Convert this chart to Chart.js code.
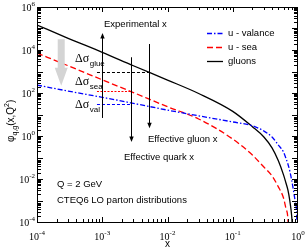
<!DOCTYPE html>
<html>
<head>
<meta charset="utf-8">
<script src="https://cdn.jsdelivr.net/npm/chart.js@4.4.1/dist/chart.umd.min.js"></script>
<style>
  html, body { margin: 0; padding: 0; background: #fff; }
  #wrap { width: 305px; height: 249px; }
</style>
</head>
<body>
<div id="wrap"><canvas id="pdfChart" width="305" height="249"></canvas></div>
<script>
const xValues  = [1e-4, 3e-4, 1e-3, 3e-3, 0.01, 0.03, 0.1, 0.2, 0.3, 0.4, 0.5, 0.6, 0.65, 0.7, 0.75, 0.8, 0.85, 0.9, 0.95, 0.99];
const uValence = [234, 123, 63, 33, 16, 8.7, 4.5, 3.0, 1.7, 0.9, 0.38, 0.18, 0.095, 0.05, 0.023, 0.0089, 0.0031, 0.00105, 0.0003, 0.000001];
const uSea     = [7200, 1850, 410, 105, 23, 6.2, 0.72, 0.13, 0.036, 0.014, 0.0043, 0.0013, 0.00045, 0.00014, 0.000001, null, null, null, null, null];
const gluons   = [145000, 35000, 7800, 1850, 400, 95, 14, 2.7, 0.9, 0.28, 0.07, 0.0155, 0.0069, 0.0031, 0.00095, 0.00019, 0.00001, null, null, null];

// decade exponents used for the tick labels
const xTickExps = [-4, -3, -2, -1, 0];
const yTickExps = [-4, -2, 0, 2, 4, 6];

// annotation arrows: [x, yFrom, yTo] (head at yTo)
const expArrow   = [1e-3, 6.9, 62000];
const quarkArrow = [2.8e-3, 4600, 0.52];
const gluonArrow = [5.2e-3, 19000, 2.3];
const grayArrow  = [2.35e-4, 32000, 215];
// dashed guides: [xFrom, xTo, y]
const glueGuide = [8.3e-4, 5.2e-3, 950];
const seaGuide  = [8.3e-4, 2.8e-3, 123];
const valGuide  = [8.3e-4, 2.8e-3, 31];

function pts(ys) {
  return xValues.map((x, i) => ({ x: x, y: ys[i] }));
}

const SANS = '"Liberation Sans", Arial, sans-serif';
const SERIF = '"Liberation Serif", "Times New Roman", serif';

function line(ctx, x1, y1, x2, y2) {
  ctx.beginPath(); ctx.moveTo(x1, y1); ctx.lineTo(x2, y2); ctx.stroke();
}

function thinArrow(ctx, x, y, a) {
  const px = Math.round(x.getPixelForValue(a[0])) + 0.5;
  const y1 = y.getPixelForValue(a[1]), y2 = y.getPixelForValue(a[2]);
  const dir = y2 > y1 ? 1 : -1;
  ctx.strokeStyle = '#000'; ctx.lineWidth = 1;
  line(ctx, px, y1, px, y2 - dir * 3);
  ctx.fillStyle = '#000';
  ctx.beginPath();
  ctx.moveTo(px, y2);
  ctx.lineTo(px - 2.2, y2 - dir * 5.5);
  ctx.lineTo(px + 2.2, y2 - dir * 5.5);
  ctx.closePath(); ctx.fill();
}

function guide(ctx, x, y, g, color, dash) {
  ctx.strokeStyle = color; ctx.lineWidth = 1; ctx.setLineDash(dash);
  const py = Math.round(y.getPixelForValue(g[2])) + 0.5;
  line(ctx, x.getPixelForValue(g[0]), py, x.getPixelForValue(g[1]), py);
  ctx.setLineDash([]);
}

function powLabel(ctx, exp, px, py, align) {
  ctx.font = '10px ' + SERIF;
  const wb = ctx.measureText('10').width;
  ctx.font = '7px ' + SERIF;
  const es = String(exp);
  const we = ctx.measureText(es).width;
  let left = align === 'right' ? px - wb - we : px - (wb + we) / 2;
  ctx.textAlign = 'left'; ctx.textBaseline = 'alphabetic';
  ctx.font = '10px ' + SERIF;
  ctx.fillText('10', left, py);
  ctx.font = '7px ' + SERIF;
  ctx.fillText(es, left + wb, py - 5);
}

function deltaSigma(ctx, sub, px, py) {
  ctx.textAlign = 'left'; ctx.textBaseline = 'alphabetic';
  ctx.font = '12px ' + SERIF;
  ctx.fillText('\u0394\u03c3', px, py);
  const w = ctx.measureText('\u0394\u03c3').width;
  ctx.font = '8px ' + SANS;
  ctx.fillText(sub, px + w + 0.5, py + 4);
}

const pdfDecor = {
  id: 'pdfDecor',
  afterDatasetsDraw(chart) {
    const { ctx, chartArea: a, scales: { x, y } } = chart;
    ctx.save();

    // big gray arrow
    const gx = x.getPixelForValue(grayArrow[0]);
    const gTop = y.getPixelForValue(grayArrow[1]);
    const gTip = y.getPixelForValue(grayArrow[2]);
    ctx.fillStyle = '#d4d4d4';
    ctx.beginPath();
    ctx.moveTo(gx - 3.5, gTop);
    ctx.lineTo(gx + 3.5, gTop);
    ctx.lineTo(gx + 3.5, gTip - 18);
    ctx.lineTo(gx + 6.5, gTip - 18);
    ctx.lineTo(gx, gTip);
    ctx.lineTo(gx - 6.5, gTip - 18);
    ctx.lineTo(gx - 3.5, gTip - 18);
    ctx.closePath(); ctx.fill();

    // dashed guides
    guide(ctx, x, y, glueGuide, '#000', [3, 2]);
    guide(ctx, x, y, seaGuide, '#ff0000', [2, 1.5]);
    guide(ctx, x, y, valGuide, '#0000ff', [3, 2]);

    // arrows
    thinArrow(ctx, x, y, expArrow);
    thinArrow(ctx, x, y, quarkArrow);
    thinArrow(ctx, x, y, gluonArrow);

    // frame
    ctx.strokeStyle = '#000'; ctx.lineWidth = 1;
    ctx.strokeRect(a.left + 0.5, a.top + 0.5, a.right - a.left - 1, a.bottom - a.top);

    // inward ticks, x
    for (let e = -4; e < 0; e++) {
      for (let m = 1; m <= 9; m++) {
        const px = Math.round(x.getPixelForValue(m * Math.pow(10, e))) + 0.5;
        const len = m === 1 ? 5 : 3;
        line(ctx, px, a.bottom, px, a.bottom - len);
        line(ctx, px, a.top, px, a.top + len);
      }
    }
    // inward ticks, y
    for (let e = -4; e < 6; e++) {
      for (let m = 1; m <= 9; m++) {
        const py = Math.round(y.getPixelForValue(m * Math.pow(10, e))) + 0.5;
        const len = m === 1 ? 6 : 4;
        line(ctx, a.left, py, a.left + len, py);
        line(ctx, a.right, py, a.right - len, py);
      }
    }

    // tick labels
    ctx.fillStyle = '#000';
    xTickExps.forEach(e => powLabel(ctx, e, x.getPixelForValue(Math.pow(10, e)), 240, 'center'));
    yTickExps.forEach(e => powLabel(ctx, e, 35, y.getPixelForValue(Math.pow(10, e)) + 3.5, 'right'));

    // axis titles
    ctx.font = '10px ' + SANS; ctx.textAlign = 'center';
    ctx.fillText('x', (a.left + a.right) / 2, 247);
    ctx.save();
    ctx.translate(14, 142);
    ctx.rotate(-Math.PI / 2);
    ctx.textAlign = 'left';
    let cx = 0;
    ctx.font = '10px ' + SANS; ctx.fillText('\u03c6', cx, 0); cx += ctx.measureText('\u03c6').width;
    ctx.font = '7px ' + SANS; ctx.fillText('q,g', cx, 2.5); cx += ctx.measureText('q,g').width;
    ctx.font = '10px ' + SANS; ctx.fillText('(x,Q', cx, 0); cx += ctx.measureText('(x,Q').width;
    ctx.font = '7px ' + SANS; ctx.fillText('2', cx, -5); cx += ctx.measureText('2').width;
    ctx.font = '10px ' + SANS; ctx.fillText(')', cx, 0);
    ctx.restore();

    // legend
    const rows = [33, 47, 61];
    chart.data.datasets.forEach((ds, i) => {
      ctx.strokeStyle = ds.borderColor; ctx.lineWidth = ds.borderWidth;
      ctx.setLineDash(ds.borderDash || []);
      line(ctx, 207, rows[i] + 0.5, 223, rows[i] + 0.5);
      ctx.setLineDash([]);
      ctx.fillStyle = '#000'; ctx.font = '9.5px ' + SANS;
      ctx.textAlign = 'left'; ctx.textBaseline = 'middle';
      ctx.fillText(ds.label, 228, rows[i] + 0.5);
    });
    ctx.textBaseline = 'alphabetic';

    // annotation texts
    ctx.font = '9.5px ' + SANS; ctx.textAlign = 'left'; ctx.fillStyle = '#000';
    ctx.fillText('Experimental x', 104, 27);
    ctx.fillText('Effective gluon x', 148, 142);
    ctx.fillText('Effective quark x', 124, 160);
    ctx.fillText('Q = 2 GeV', 57, 187);
    ctx.fillText('CTEQ6 LO parton distributions', 57, 203);
    deltaSigma(ctx, 'glue', 75, 62);
    deltaSigma(ctx, 'sea', 75, 85);
    deltaSigma(ctx, 'val', 75, 108);

    ctx.restore();
  }
};

new Chart(document.getElementById('pdfChart'), {
  type: 'line',
  data: {
    datasets: [
      { label: 'u - valance', data: pts(uValence), borderColor: '#0000ff', borderWidth: 1.3, borderDash: [5, 2, 1.5, 2] },
      { label: 'u - sea', data: pts(uSea), borderColor: '#ff0000', borderWidth: 1.3, borderDash: [6, 3] },
      { label: 'gluons', data: pts(gluons), borderColor: '#000000', borderWidth: 1.3 }
    ]
  },
  options: {
    responsive: false,
    animation: false,
    devicePixelRatio: 1,
    layout: { padding: { left: 37, top: 7, right: 7, bottom: 27 } },
    elements: {
      point: { radius: 0 },
      line: { cubicInterpolationMode: 'monotone', fill: false }
    },
    spanGaps: false,
    scales: {
      x: { type: 'logarithmic', min: 1e-4, max: 1, display: false },
      y: { type: 'logarithmic', min: 1e-4, max: 1e6, display: false }
    },
    plugins: { legend: { display: false }, tooltip: { enabled: false } }
  },
  plugins: [pdfDecor]
});
</script>
</body>
</html>
